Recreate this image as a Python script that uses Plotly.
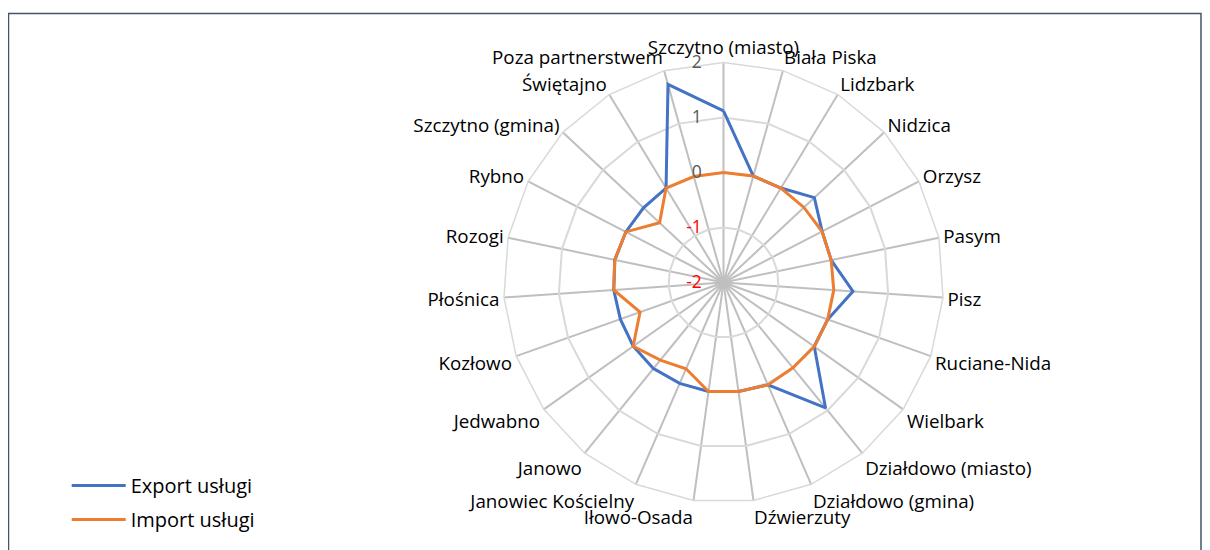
import plotly.graph_objects as go

categories = [
    "Szczytno (miasto)", "Biała Piska", "Lidzbark", "Nidzica", "Orzysz", "Pasym",
    "Pisz", "Ruciane-Nida", "Wielbark", "Działdowo (miasto)", "Działdowo (gmina)",
    "Dźwierzuty", "Iłowo-Osada", "Janowiec Kościelny", "Janowo", "Jedwabno",
    "Kozłowo", "Płośnica", "Rozogi", "Rybno", "Szczytno (gmina)", "Świętajno",
    "Poza partnerstwem",
]
export_uslugi = [1.12, 0.01, 0.01, 0.26, 0.02, 0.0, 0.36, 0.01, 0.02, 0.94, 0.03, 0.0,
                 0.0, 0.0, 0.02, 0.01, -0.01, 0.0, 0.02, 0.0, -0.01, 0.01, 1.74]
import_uslugi = [0.0, 0.01, 0.01, 0.0, 0.02, 0.0, 0.01, 0.01, 0.02, 0.0, 0.03, 0.0,
                 0.0, -0.29, -0.18, 0.01, -0.39, 0.0, 0.02, 0.0, -0.41, 0.01, 0.0]
tick_vals = [-2, -1, 0, 1, 2]
tick_labels = ["<span style='color:#ff0000'>-2</span>", "<span style='color:#ff0000'>-1</span>",
               "0", "1", "2"]

FONT = "Open Sans"
W, H = 1202, 542          # page has an 8px body margin
OFF = 8


def px_x(p):
    return (p - OFF) / W


def px_y(p):
    return 1 - (p - OFF) / H


fig = go.Figure()
fig.add_trace(go.Scatterpolar(
    r=export_uslugi + export_uslugi[:1], theta=categories + categories[:1],
    mode="lines", name="Export usługi", legendgroup="a",
    line=dict(color="#4472C4", width=3),
))
fig.add_trace(go.Scatterpolar(
    r=import_uslugi + import_uslugi[:1], theta=categories + categories[:1],
    mode="lines", name="Import usługi", legendgroup="b",
    line=dict(color="#ED7D31", width=3),
))

cx, cy, R = 723.5, 282.5, 220
fig.update_layout(
    width=W, height=H,
    margin=dict(l=0, r=0, t=0, b=0),
    paper_bgcolor="white",
    font=dict(family=FONT, size=18, color="#000000"),
    polar=dict(
        domain=dict(x=[px_x(cx - R), px_x(cx + R)], y=[px_y(cy + R), px_y(cy - R)]),
        bgcolor="white",
        gridshape="linear",
        angularaxis=dict(
            type="category", direction="clockwise", rotation=90,
            showline=True, linecolor="#d9d9d9", linewidth=1.5,
            gridcolor="#bfbfbf", gridwidth=1.5,
            ticks="", tickfont=dict(family=FONT, size=18.8, color="#000000"),
        ),
        radialaxis=dict(
            range=[-2, 2], angle=90, side="counterclockwise", tickangle=90,
            tickvals=tick_vals, ticktext=tick_labels,
            showline=False, gridcolor="#d9d9d9", gridwidth=1.5,
            ticks="outside", ticklen=15, tickcolor="rgba(0,0,0,0)",
            tickfont=dict(family=FONT, size=17.5, color="#595959"),
        ),
    ),
    legend=dict(
        x=px_x(66.7), y=px_y(466), xanchor="left", yanchor="top",
        font=dict(family=FONT, size=20, color="#000000"),
        itemwidth=54, tracegroupgap=5, bgcolor="rgba(0,0,0,0)",
    ),
    shapes=[dict(type="rect", xref="paper", yref="paper",
                 x0=px_x(8.5), x1=px_x(1201), y0=-0.1, y1=px_y(13.5),
                 line=dict(color="#44546A", width=1.5))],
)

fig.write_html("out.html")
